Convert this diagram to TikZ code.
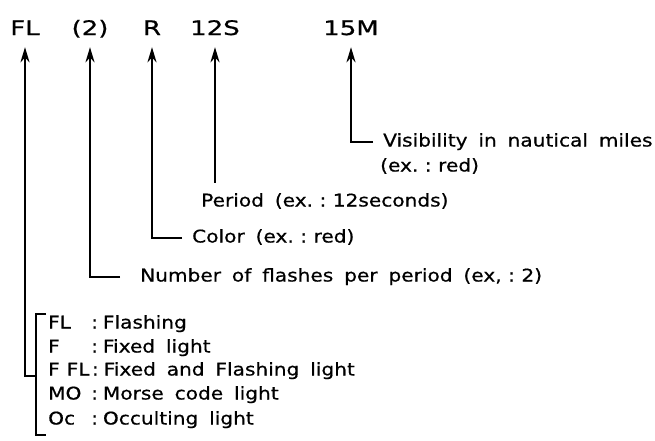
\documentclass[tikz,border=0pt]{standalone}
\usepackage{fontspec}
\setmainfont[FakeStretch=1.15,WordSpace=1.7,FakeBold=0.6]{DejaVu Sans}
\newfontfamily\topfont[FakeStretch=1.3,FakeBold=0.8]{DejaVu Sans}
\newcommand{\colsp}{\hspace{6.5pt}:\hspace{6.5pt}}
\usetikzlibrary{arrows.meta}
\begin{document}
\begin{tikzpicture}[x=1pt,y=-1pt,
  toplabel/.style={inner sep=0pt,text height=14pt,text depth=3pt,anchor=base,font=\topfont\fontsize{20}{22}\selectfont},
  txt/.style={inner sep=0pt,text height=12.5pt,text depth=3.5pt,anchor=west,font=\fontsize{17.5}{19}\selectfont},
  ln/.style={line width=1.8pt},
  arr/.style={ln,-{Stealth[length=15pt,width=9pt,inset=4.5pt]},shorten >=9pt}]
\useasboundingbox (0,0) rectangle (655,440);
% top labels
\node[toplabel] (tFL) at (25,35) {FL};
\node[toplabel] (t2) at (90,35) {(2)};
\node[toplabel] (tR) at (152,35) {R};
\node[toplabel] (t12S) at (215,35) {12S};
\node[toplabel] (t15M) at (351,35) {15M};
% explanations
\node[txt] (vis) at (383,142) {Visibility in nautical miles};
\node[txt] (visb) at (380,167) {(ex.\colsp red)};
\node[txt] (per) at (201,202) {Period (ex.\colsp 12seconds)};
\node[txt] (col) at (192,238) {Color (ex.\colsp red)};
\node[txt] (num) at (140,277) {Number of flashes per period (ex,\colsp 2)};
% list
\node[txt] (lFL) at (48,324) {FL};
\node[txt] (dFL) at (91,324) {:\hspace{5pt}Flashing};
\node[txt] (lF) at (48,348) {F};
\node[txt] (dF) at (91,348) {:\hspace{5pt}Fixed light};
\node[txt] (lFF) at (48,371) {F\hspace{7pt}FL};
\node[txt] (dFF) at ([xshift=2pt]lFF.east) {:\hspace{5pt}Fixed and Flashing light};
\node[txt] (lMO) at (48,395) {MO};
\node[txt] (dMO) at (91,395) {:\hspace{5pt}Morse code light};
\node[txt] (lOc) at (48,420) {Oc};
\node[txt] (dOc) at (91,420) {:\hspace{5pt}Occulting light};
% bracket
\coordinate (brT) at (46,314);
\coordinate (brB) at (46,435);
\coordinate (brM) at (36,376);
\draw[ln] (brT) -- (brT -| brM) -- (brB -| brM) -- (brB);
% connectors
\draw[arr,shorten <=10pt] (vis.west) -| (t15M.south);
\draw[arr,shorten <=11pt] (t12S.south |- per.north) -- (t12S.south);
\draw[arr,shorten <=10pt] (col.west) -| (tR.south);
\draw[arr,shorten <=20pt] (num.west) -| (t2.south);
\draw[arr] (brM) -| (tFL.south);
\end{tikzpicture}
\end{document}
